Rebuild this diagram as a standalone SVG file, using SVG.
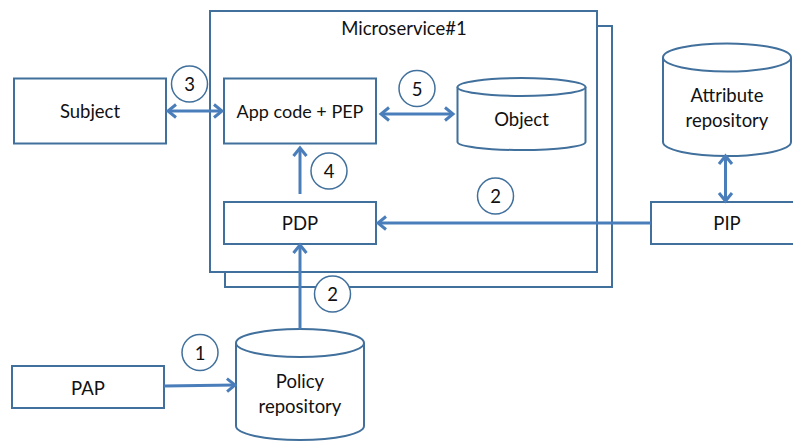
<svg xmlns="http://www.w3.org/2000/svg" width="793" height="441" viewBox="0 0 793 441">
<style>
text{font-family:Lato,"Open Sans","Liberation Sans",sans-serif;font-size:18.5px;fill:#111;text-anchor:middle}
.b{fill:#fff;stroke:#41709c;stroke-width:2}
.c{fill:#fff;stroke:#41709c;stroke-width:1.5}
.a{fill:none;stroke:#4a7ebb;stroke-width:3}
</style>
<defs>
<marker id="h" markerUnits="userSpaceOnUse" markerWidth="14" markerHeight="18" refX="11" refY="8" orient="auto-start-reverse" viewBox="0 0 14 16">
<path d="M3 1.500L11 8L3 14.500" fill="none" stroke="#4a7ebb" stroke-width="3"/>
</marker>
</defs>
<rect width="793" height="441" fill="#fff"/>
<g id="microservice-back"><rect class="b" x="225" y="26" width="387" height="261"/></g>
<g id="microservice"><rect class="b" x="210" y="11" width="387" height="261"/><text x="404" y="34.500">Microservice#1</text></g>
<g id="subject"><rect class="b" x="14" y="78.500" width="152" height="65"/><text x="90" y="118">Subject</text></g>
<g id="app"><rect class="b" x="224" y="78.500" width="152" height="65"/><text x="300" y="118" font-size="18" style="font-size:18px">App code + PEP</text></g>
<g id="object"><path class="b" d="M457.500 87V142A64 8 0 0 0 585.500 142V87"/><ellipse class="b" cx="521.500" cy="87" rx="64" ry="9"/><text x="521.500" y="125.500">Object</text></g>
<g id="pdp"><rect class="b" x="224" y="202" width="152" height="42"/><text x="300" y="230">PDP</text></g>
<g id="attribute"><path class="b" d="M663 57.500V142A64 14 0 0 0 791 142V57.500"/><ellipse class="b" cx="727" cy="57.500" rx="64" ry="14"/><text x="727" y="101.500">Attribute</text><text x="727" y="126.500">repository</text></g>
<g id="pip"><rect class="b" x="651" y="202" width="150" height="42"/><text x="727" y="230">PIP</text></g>
<g id="policy"><path class="b" d="M236 343V426A64 14 0 0 0 364 426V343"/><ellipse class="b" cx="300" cy="343" rx="64" ry="14"/><text x="300" y="387.500">Policy</text><text x="300" y="412.500">repository</text></g>
<g id="pap"><rect class="b" x="12" y="366" width="152" height="42"/><text x="88" y="394.500">PAP</text></g>
<g id="connectors">
<path class="a" d="M168 111H222" marker-start="url(#h)" marker-end="url(#h)"/>
<path class="a" d="M381 114H453" marker-start="url(#h)" marker-end="url(#h)"/>
<path class="a" d="M300 194V148" marker-end="url(#h)"/>
<path class="a" d="M651 223H378" marker-end="url(#h)"/>
<path class="a" d="M300 329V245" marker-end="url(#h)"/>
<path class="a" d="M164 386L235 385" marker-end="url(#h)"/>
<path class="a" d="M725.500 156V201" marker-start="url(#h)" marker-end="url(#h)"/>
</g>
<g id="n3"><circle class="c" cx="189.500" cy="84" r="18"/><text x="189.500" y="91">3</text></g>
<g id="n4"><circle class="c" cx="329" cy="171" r="18"/><text x="329" y="178">4</text></g>
<g id="n5"><circle class="c" cx="417" cy="88.500" r="18"/><text x="417" y="95.500">5</text></g>
<g id="n2a"><circle class="c" cx="495.500" cy="196" r="18"/><text x="495.500" y="203">2</text></g>
<g id="n2b"><circle class="c" cx="332.500" cy="294" r="18"/><text x="332.500" y="301">2</text></g>
<g id="n1"><circle class="c" cx="200" cy="352.500" r="18"/><text x="200" y="359.500">1</text></g>
</svg>
